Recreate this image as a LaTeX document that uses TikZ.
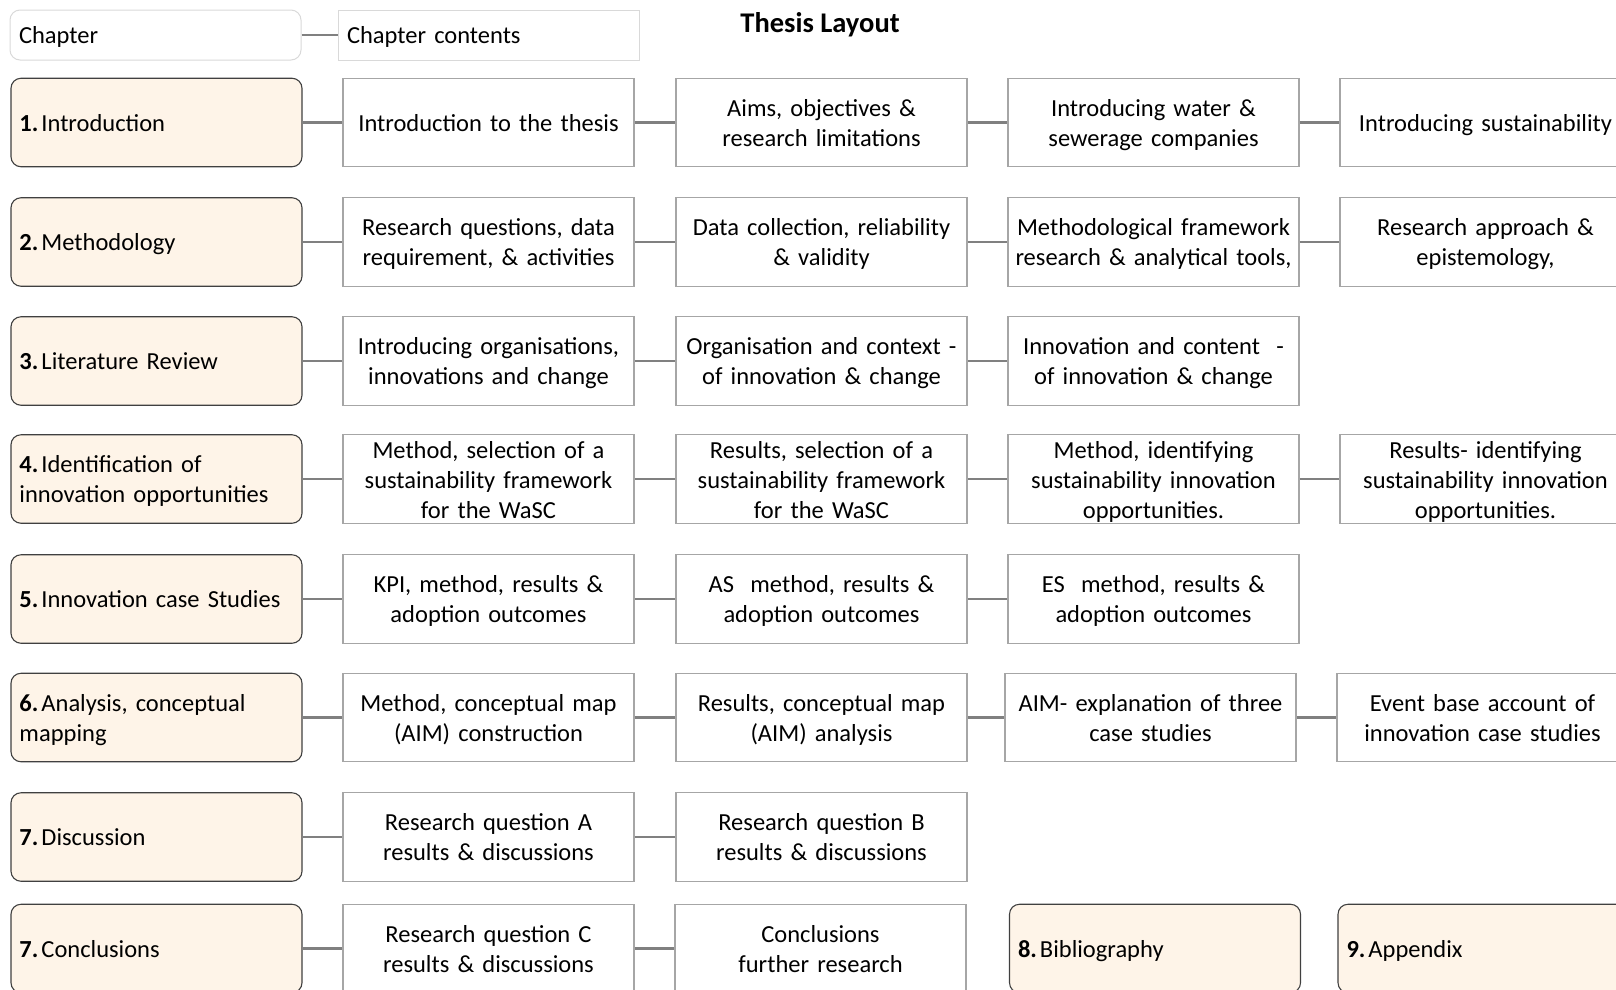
\documentclass[tikz,border=0pt]{standalone}
\usepackage{fontspec}
\setmainfont{Carlito}
\definecolor{chapfill}{HTML}{FEF4E8}
\definecolor{chapline}{HTML}{404040}
\definecolor{boxline}{HTML}{A6A6A6}
\definecolor{keyline}{HTML}{D9D9D9}
\definecolor{linkline}{HTML}{808080}
\newcommand{\bodyfont}{\fontsize{24.5}{30}\selectfont}
% bold chapter number followed by a narrow gap
\newcommand{\chapno}[1]{\textbf{#1.}\hspace{3pt}}
% room above the first line and below the last line of a box text
\newlength{\toppad}\setlength{\toppad}{26pt}
\newlength{\botpad}\setlength{\botpad}{9pt}
\begin{document}
\begin{tikzpicture}[x=1pt,y=-1pt,
  boxtext/.style={font=\bodyfont, inner ysep=0pt,
    execute at begin node={\rule{0pt}{\toppad}},
    execute at end node={\rule[-\botpad]{0pt}{\botpad}}},
  threelines/.code={\setlength{\toppad}{24pt}\setlength{\botpad}{4.5pt}},
  chap/.style={boxtext, draw=chapline, fill=chapfill, line width=1.1pt, rounded corners=10pt,
    minimum width=291pt, minimum height=88.5pt, text width=274pt, inner xsep=8.5pt,
    align=left},
  cont/.style={boxtext, draw=boxline, fill=white, line width=1.2pt,
    minimum width=291pt, minimum height=88.5pt, text width=285pt, inner xsep=3pt,
    align=center},
  keychap/.style={boxtext, draw=keyline, fill=white, line width=1pt, rounded corners=10pt,
    minimum width=291pt, minimum height=50pt, text width=273pt, inner xsep=9pt,
    align=left},
  keycont/.style={boxtext, draw=keyline, fill=white, line width=1pt,
    minimum width=301pt, minimum height=50pt, text width=283pt, inner xsep=9pt,
    align=left},
  link/.style={draw=linkline, line width=2.6pt},
  title/.style={font=\fontsize{28.5}{34}\selectfont\bfseries}]
\useasboundingbox (0,0) rectangle (1616,989);
\clip (0,0) rectangle (1616,989);

% key and title
\node[keychap] (kc) at (155.5,35) {Chapter};
\node[keycont] (kt) at (488.5,35) {Chapter contents};
\draw[link, line width=2pt] (kc.east) -- (kt.west);
\node[title] (ttl) at (820,25) {Thesis Layout};

% row 1
\node[chap] (c1) at (156.5,122.5) {\chapno{1}Introduction};
\node[cont] (a1) at (488.5,122.5) {Introduction to the thesis};
\node[cont] (b1) at (821.5,122.5) {Aims, objectives \&\\research limitations};
\node[cont] (d1) at (1153.5,122.5) {Introducing water \&\\sewerage companies};
\node[cont] (e1) at (1485.5,122.5) {Introducing sustainability};
\draw[link] (c1.east) -- (a1.west);
\draw[link] (a1.east) -- (b1.west);
\draw[link] (b1.east) -- (d1.west);
\draw[link] (d1.east) -- (e1.west);

% row 2
\node[chap] (c2) at (156.5,242) {\chapno{2}Methodology};
\node[cont] (a2) at (488.5,242) {Research questions, data\\requirement, \& activities};
\node[cont] (b2) at (821.5,242) {Data collection, reliability\\\& validity};
\node[cont] (d2) at (1153.5,242) {Methodological framework\\research \& analytical tools,};
\node[cont] (e2) at (1485.5,242) {Research approach \&\\epistemology,};
\draw[link] (c2.east) -- (a2.west);
\draw[link] (a2.east) -- (b2.west);
\draw[link] (b2.east) -- (d2.west);
\draw[link] (d2.east) -- (e2.west);

% row 3
\node[chap] (c3) at (156.5,361) {\chapno{3}Literature Review};
\node[cont] (a3) at (488.5,361) {Introducing organisations,\\innovations and change};
\node[cont] (b3) at (821.5,361) {Organisation and context -\\of innovation \& change};
\node[cont] (d3) at (1153.5,361) {Innovation and content\ \ -\\of innovation \& change};
\draw[link] (c3.east) -- (a3.west);
\draw[link] (a3.east) -- (b3.west);
\draw[link] (b3.east) -- (d3.west);

% row 4
\node[chap] (c4) at (156.5,479) {\chapno{4}Identification of\\innovation opportunities};
\node[cont, threelines] (a4) at (488.5,479) {Method, selection of a\\sustainability framework\\for the WaSC};
\node[cont, threelines] (b4) at (821.5,479) {Results, selection of a\\sustainability framework\\for the WaSC};
\node[cont, threelines] (d4) at (1153.5,479) {Method, identifying\\sustainability innovation\\opportunities.};
\node[cont, threelines] (e4) at (1485.5,479) {Results- identifying\\sustainability innovation\\opportunities.};
\draw[link] (c4.east) -- (a4.west);
\draw[link] (a4.east) -- (b4.west);
\draw[link] (b4.east) -- (d4.west);
\draw[link] (d4.east) -- (e4.west);

% row 5
\node[chap] (c5) at (156.5,599) {\chapno{5}Innovation case Studies};
\node[cont] (a5) at (488.5,599) {KPI, method, results \&\\adoption outcomes};
\node[cont] (b5) at (821.5,599) {AS\ \ method, results \&\\adoption outcomes};
\node[cont] (d5) at (1153.5,599) {ES\ \ method, results \&\\adoption outcomes};
\draw[link] (c5.east) -- (a5.west);
\draw[link] (a5.east) -- (b5.west);
\draw[link] (b5.east) -- (d5.west);

% row 6
\node[chap] (c6) at (156.5,717.5) {\chapno{6}Analysis, conceptual\\mapping};
\node[cont] (a6) at (488.5,717.5) {Method, conceptual map\\(AIM) construction};
\node[cont] (b6) at (821.5,717.5) {Results, conceptual map\\(AIM) analysis};
\node[cont] (d6) at (1150.5,717.5) {AIM- explanation of three\\case studies};
\node[cont] (e6) at (1482.5,717.5) {Event base account of\\innovation case studies};
\draw[link] (c6.east) -- (a6.west);
\draw[link] (a6.east) -- (b6.west);
\draw[link] (b6.east) -- (d6.west);
\draw[link] (d6.east) -- (e6.west);

% row 7
\node[chap] (c7) at (156.5,837) {\chapno{7}Discussion};
\node[cont] (a7) at (488.5,837) {Research question A\\results \& discussions};
\node[cont] (b7) at (821.5,837) {Research question B\\results \& discussions};
\draw[link] (c7.east) -- (a7.west);
\draw[link] (a7.east) -- (b7.west);

% row 8
\node[chap] (c8) at (156.5,948.5) {\chapno{7}Conclusions};
\node[cont] (a8) at (488.5,948.5) {Research question C\\results \& discussions};
\node[cont] (b8) at (820.5,948.5) {Conclusions\\further research};
\node[chap] (bib) at (1155,948.5) {\chapno{8}Bibliography};
\node[chap] (app) at (1483.5,948.5) {\chapno{9}Appendix};
\draw[link] (c8.east) -- (a8.west);
\draw[link] (a8.east) -- (b8.west);
\end{tikzpicture}
\end{document}
